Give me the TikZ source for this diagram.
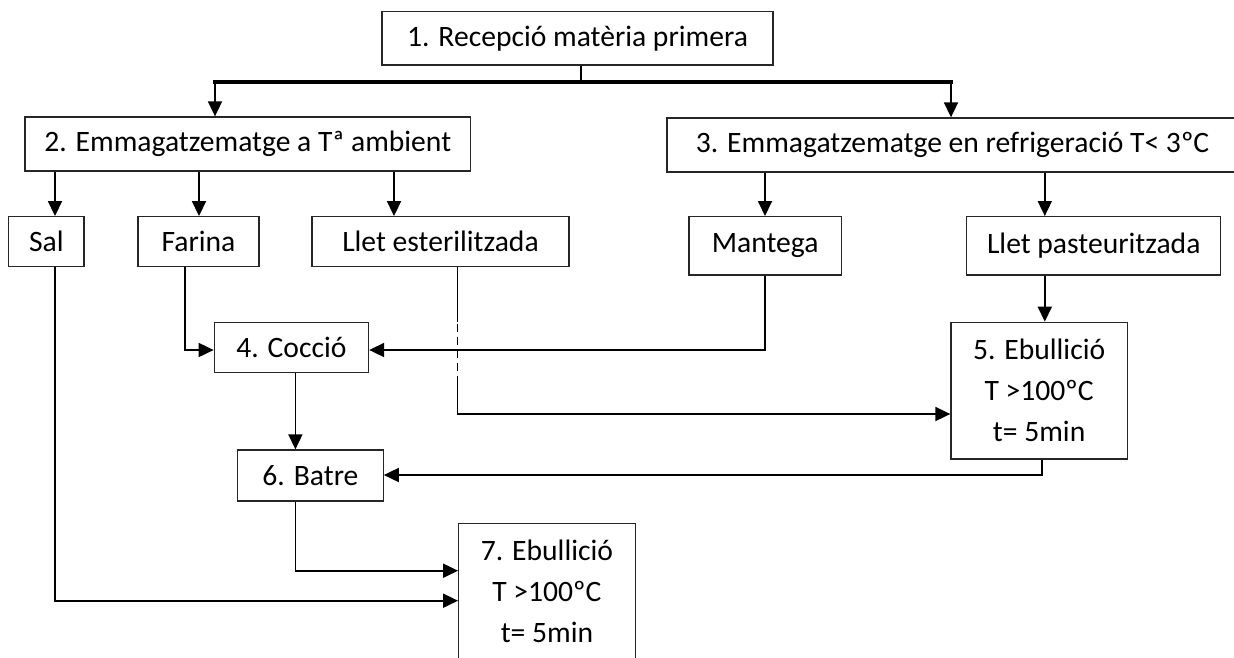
\documentclass[tikz,border=0pt]{standalone}
\usepackage{fontspec}
\setmainfont{Carlito}
\usetikzlibrary{arrows.meta,calc}

\begin{document}
\begin{tikzpicture}[x=1pt,y=-1pt,
  box/.style={draw=black!85, line width=1.3pt, inner sep=0pt, anchor=center,
    align=center, font=\fontsize{29.6}{41}\selectfont},
  conn/.style={line width=1.8pt, line join=miter},
  arr/.style={conn, -{Triangle[length=15pt,width=14pt]}},
  bus/.style={line width=3.6pt, line cap=rect},
  breakline/.style={conn, dash pattern=on 8pt off 5pt, dash phase=11.5pt},
]
\useasboundingbox (0,0) rectangle (1234,657);

% process boxes
\node[box, minimum width=391pt, minimum height=53.3pt] (n1) at (577.5,38.3) {1. Recepció matèria primera};
\node[box, minimum width=445.5pt, minimum height=54pt] (n2) at (247.75,144) {2. Emmagatzematge a Tª ambient};
\node[box, minimum width=571pt, minimum height=54pt] (n3) at (952.5,145) {3. Emmagatzematge en refrigeració T< 3ºC};

\node[box, minimum width=75.3pt, minimum height=50pt] (sal) at (46.35,241.7) {Sal};
\node[box, minimum width=121pt, minimum height=50pt] (farina) at (198.5,241.7) {Farina};
\node[box, minimum width=257pt, minimum height=50pt] (llete) at (440.5,241.7) {Llet esterilitzada};
\node[box, minimum width=152.4pt, minimum height=58.3pt] (mantega) at (765.2,245.8) {Mantega};
\node[box, minimum width=253.9pt, minimum height=58.3pt] (lletp) at (1093.75,245.8) {Llet pasteuritzada};

\node[box, minimum width=154.2pt, minimum height=50.4pt] (coccio) at (291.4,347.5) {4. Cocció};
\node[box, minimum width=176.3pt, minimum height=136.7pt] (ebu5) at (1039.15,390.65) {5. Ebullició\\T >100ºC\\t= 5min};
\node[box, minimum width=145.6pt, minimum height=51pt] (batre) at (310.4,475.5) {6. Batre};
\node[box, minimum width=176.5pt, minimum height=136.7pt] (ebu7) at (546.95,591.65) {7. Ebullició\\T >100ºC\\t= 5min};

% routing points
\coordinate (j1) at (581,82);
\coordinate (jL) at (215,82);
\coordinate (jR) at (951,82);
\coordinate (xsal) at (55,0);
\coordinate (xfar) at (199,0);
\coordinate (xlle) at (394,0);
\coordinate (xman) at (765,0);
\coordinate (xllp) at (1044.8,0);
\coordinate (yc) at (0,350);
\coordinate (farout) at (185,0);
\coordinate (lleout) at (457.5,0);
\coordinate (gapA) at (457.5,322);
\coordinate (gapB) at (457.5,381.7);
\coordinate (y5) at (0,414);
\coordinate (x5out) at (1042,0);
\coordinate (yb) at (0,475);
\coordinate (xcb) at (295.4,0);
\coordinate (y7a) at (0,570.7);
\coordinate (y7b) at (0,600.7);

% distribution from reception
\draw[conn] (n1.south -| j1) -- (j1);
\draw[bus] (jL) -- (jR);
\draw[arr] (jL) -- (jL |- n2.north);
\draw[arr] (jR) -- (jR |- n3.north);

% storage to ingredients
\draw[arr] (n2.south -| xsal) -- (sal.north -| xsal);
\draw[arr] (n2.south -| xfar) -- (farina.north -| xfar);
\draw[arr] (n2.south -| xlle) -- (llete.north -| xlle);
\draw[arr] (n3.south -| xman) -- (mantega.north -| xman);
\draw[arr] (n3.south -| xllp) -- (lletp.north -| xllp);

% ingredients to cooking
\draw[arr] (farina.south -| farout) |- (coccio.west |- yc);
\draw[arr] (mantega.south -| xman) |- (coccio.east |- yc);

% sterilised milk to boiling, crossing the butter line
\draw[conn] (llete.south -| lleout) -- (gapA);
\draw[breakline] (gapA) -- (gapB);
\draw[arr] (gapB) |- (ebu5.west |- y5);

% pasteurised milk to boiling
\draw[arr] (lletp.south -| xllp) -- (ebu5.north -| xllp);

% cooking to beating
\draw[arr] (coccio.south -| xcb) -- (batre.north -| xcb);
\draw[arr] (ebu5.south -| x5out) |- (batre.east |- yb);

% to final boiling
\draw[arr] (batre.south -| xcb) |- (ebu7.west |- y7a);
\draw[arr] (sal.south -| xsal) |- (ebu7.west |- y7b);
\end{tikzpicture}
\end{document}
